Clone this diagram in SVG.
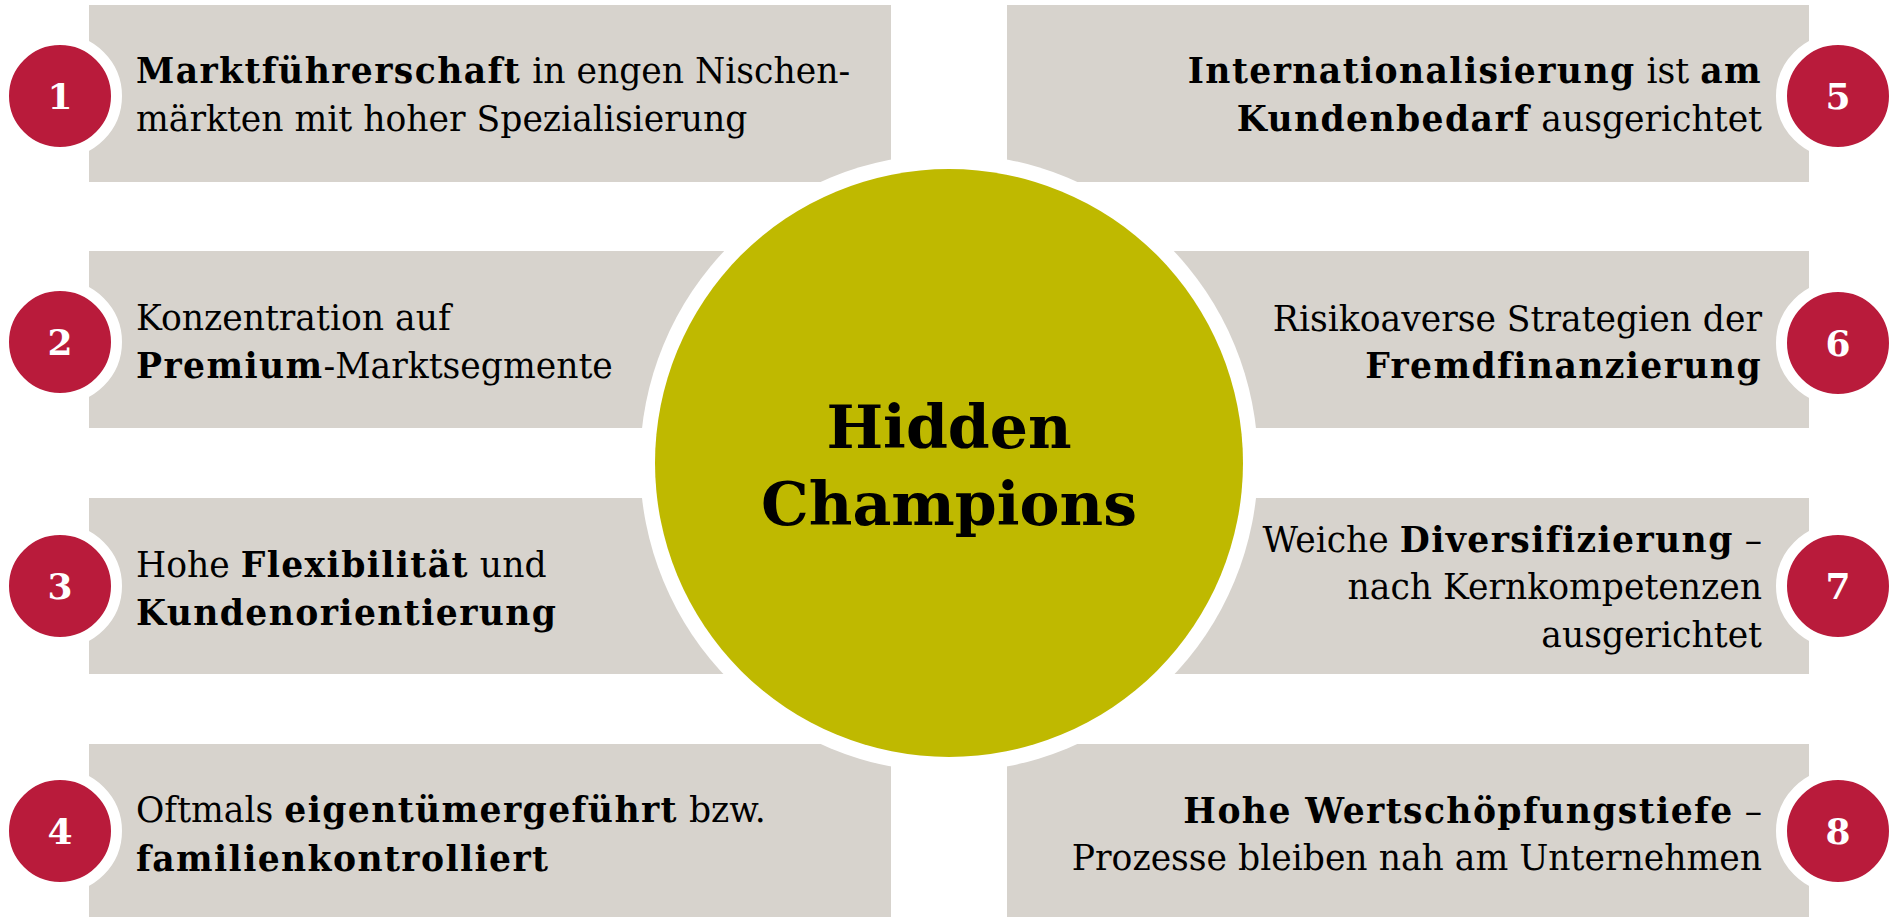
<svg xmlns="http://www.w3.org/2000/svg" width="1893" height="917" viewBox="0 0 1893 917">
<style>
.box{fill:#D7D3CD}
.badge{fill:#B91B3B;stroke:#FFFFFF;stroke-width:11}
.num{font-family:"DejaVu Serif",serif;font-weight:bold;fill:#FFFFFF;font-size:36px;text-anchor:middle}
.t{font-family:"DejaVu Serif",serif;font-size:34.6px;fill:#000000}
.r{text-anchor:end}
.b{font-weight:bold;letter-spacing:1.4px}
.title{font-family:"DejaVu Serif",serif;font-weight:bold;font-size:60px;fill:#000000;text-anchor:middle}
</style>
<rect width="1893" height="917" fill="#FFFFFF"/>
<g id="node-1">
<rect class="box" x="89" y="5" width="802" height="177"/>
<circle class="badge" cx="60" cy="96" r="56.5"/>
<text class="num" x="60" y="109">1</text>
<text class="t" x="136" y="83"><tspan class="b">Marktführerschaft</tspan> in engen Nischen-</text>
<text class="t" x="136" y="131">märkten mit hoher Spezialisierung</text>
</g>
<g id="node-2">
<rect class="box" x="89" y="251" width="802" height="177"/>
<circle class="badge" cx="60" cy="342" r="56.5"/>
<text class="num" x="60" y="355">2</text>
<text class="t" x="136" y="330">Konzentration auf</text>
<text class="t" x="136" y="378"><tspan class="b">Premium</tspan>-Marktsegmente</text>
</g>
<g id="node-3">
<rect class="box" x="89" y="498" width="802" height="176"/>
<circle class="badge" cx="60" cy="586" r="56.5"/>
<text class="num" x="60" y="599">3</text>
<text class="t" x="136" y="577">Hohe <tspan class="b">Flexibilität</tspan> und</text>
<text class="t" x="136" y="625"><tspan class="b">Kundenorientierung</tspan></text>
</g>
<g id="node-4">
<rect class="box" x="89" y="744" width="802" height="180"/>
<circle class="badge" cx="60" cy="831" r="56.5"/>
<text class="num" x="60" y="844">4</text>
<text class="t" x="136" y="822">Oftmals <tspan class="b">eigentümergeführt</tspan> bzw.</text>
<text class="t" x="136" y="871"><tspan class="b">familienkontrolliert</tspan></text>
</g>
<g id="node-5">
<rect class="box" x="1007" y="5" width="802" height="177"/>
<circle class="badge" cx="1838" cy="96" r="56.5"/>
<text class="num" x="1838" y="109">5</text>
<text class="t r" x="1762" y="83"><tspan class="b">Internationalisierung</tspan> ist <tspan class="b">am</tspan></text>
<text class="t r" x="1762" y="131"><tspan class="b">Kundenbedarf</tspan> ausgerichtet</text>
</g>
<g id="node-6">
<rect class="box" x="1007" y="251" width="802" height="177"/>
<circle class="badge" cx="1838" cy="343" r="56.5"/>
<text class="num" x="1838" y="356">6</text>
<text class="t r" x="1762" y="331">Risikoaverse Strategien der</text>
<text class="t r" x="1762" y="378"><tspan class="b">Fremdfinanzierung</tspan></text>
</g>
<g id="node-7">
<rect class="box" x="1007" y="498" width="802" height="176"/>
<circle class="badge" cx="1838" cy="586" r="56.5"/>
<text class="num" x="1838" y="599">7</text>
<text class="t r" x="1762" y="552">Weiche <tspan class="b">Diversifizierung</tspan> –</text>
<text class="t r" x="1762" y="599">nach Kernkompetenzen</text>
<text class="t r" x="1762" y="647">ausgerichtet</text>
</g>
<g id="node-8">
<rect class="box" x="1007" y="744" width="802" height="180"/>
<circle class="badge" cx="1838" cy="831" r="56.5"/>
<text class="num" x="1838" y="844">8</text>
<text class="t r" x="1762" y="823"><tspan class="b">Hohe Wertschöpfungstiefe</tspan> –</text>
<text class="t r" x="1762" y="870">Prozesse bleiben nah am Unternehmen</text>
</g>
<g id="connectors"></g>
<g id="center">
<circle cx="949" cy="463" r="309" fill="#FFFFFF"/>
<circle cx="949" cy="463" r="294" fill="#BFB900"/>
<text class="title" x="949" y="448">Hidden</text>
<text class="title" x="949" y="525">Champions</text>
</g>
</svg>
